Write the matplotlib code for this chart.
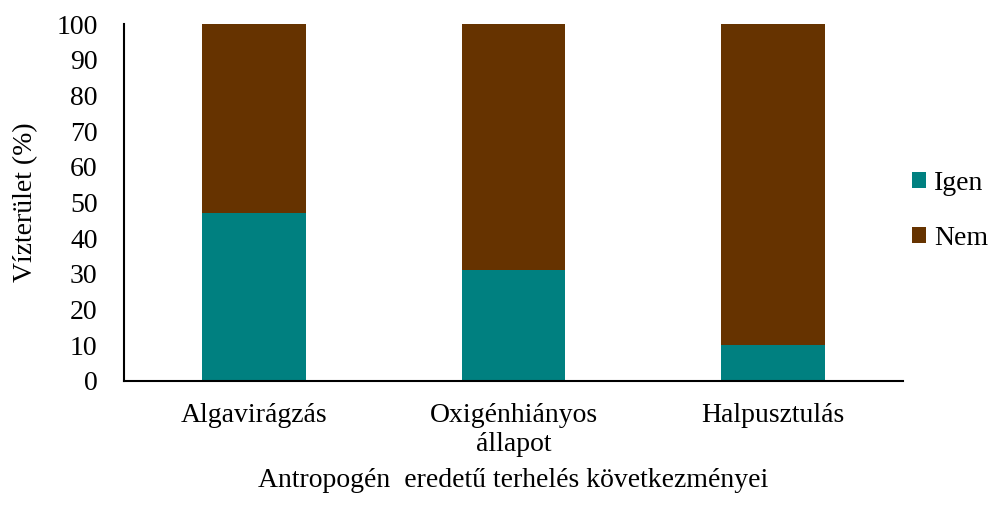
import matplotlib.pyplot as plt
import numpy as np

plt.rcParams['font.family'] = ['Liberation Serif', 'DejaVu Serif']

categories = ['Algavirágzás', 'Oxigénhiányos\nállapot', 'Halpusztulás']
igen = [47, 31, 10]
nem = [53, 69, 90]
yticks = np.arange(0, 101, 10)

fig = plt.figure(figsize=(9.89, 5.08), dpi=100)
ax = fig.add_axes([124 / 989, 1 - 381 / 508, (903 - 124) / 989, (381 - 24) / 508])

x = np.arange(len(categories))
ax.bar(x, igen, width=0.4, color='#008080', label='Igen')
ax.bar(x, nem, width=0.4, bottom=igen, color='#663300', label='Nem')

ax.set_xlim(-0.5, 2.5)
ax.set_ylim(0, 100)
ax.set_yticks(yticks)
ax.set_xticks(x)
ax.set_xticklabels(categories, fontsize=20, linespacing=1.2)
ax.tick_params(axis='y', labelsize=20, length=0, pad=19)
ax.tick_params(axis='x', length=0, pad=16)

for s in ['top', 'right']:
    ax.spines[s].set_visible(False)
ax.spines['left'].set_linewidth(1.5)
ax.spines['bottom'].set_linewidth(1.5)

ax.set_ylabel('Vízterület (%)', fontsize=20, labelpad=13)
ax.set_xlabel('Antropogén  eredetű terhelés következményei', fontsize=20, labelpad=8)

fig.legend(loc='center left', bbox_to_anchor=(912 / 989, 1 - 211 / 508),
           bbox_transform=fig.transFigure, frameon=False, borderaxespad=0, borderpad=0,
           fontsize=20, handlelength=0.5, handleheight=0.5, handletextpad=0.3,
           labelspacing=1.1)

plt.savefig('out.png', dpi=100)
